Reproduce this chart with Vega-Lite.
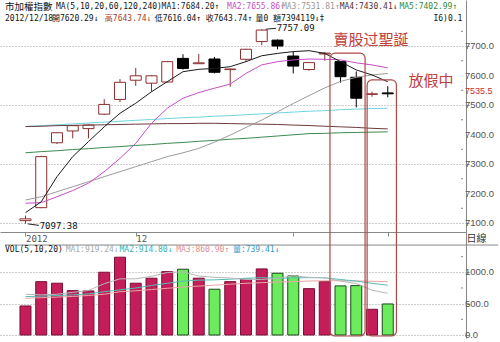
{
"$schema": "https://vega.github.io/schema/vega-lite/v6.json",
"padding": 0,
"background": "white",
"spacing": 0,
"bounds": "flush",
"resolve": {"scale": {"color": "independent"}},
"config": {
  "view": {"stroke": null},
  "axis": {"domainColor": "#888", "tickColor": "#888", "labelColor": "#555", "labelFont": "Liberation Sans", "labelFontSize": 9.5, "gridColor": "#9a9a9a", "gridDash": [1, 2], "gridOpacity": 1},
  "text": {"font": "DejaVu Sans Mono, Noto Sans CJK TC", "fontSize": 8, "baseline": "middle", "align": "left", "color": "#111"}
},
"datasets": {
  "k": [
    {"i":0,"o":7108,"h":7125,"l":7097.38,"c":7114,"v":463,"m5":7135,"m10":7167,"m20":7178,"m60":7427,"m120":7338,"m240":7427,"v5":650,"v10":612,"v20":586},
    {"i":1,"o":7152,"h":7328,"l":7150,"c":7325,"v":851,"m5":7172,"m10":7169,"m20":7189,"m60":7428,"m120":7342,"m240":7430,"v5":640,"v10":620,"v20":595},
    {"i":2,"o":7372,"h":7408,"l":7368,"c":7406,"v":826,"m5":7257,"m10":7189,"m20":7206,"m60":7430,"m120":7345,"m240":7433,"v5":650,"v10":630,"v20":605},
    {"i":3,"o":7412,"h":7432,"l":7387,"c":7430,"v":708,"m5":7325,"m10":7210,"m20":7223,"m60":7431,"m120":7349,"m240":7436,"v5":680,"v10":640,"v20":615},
    {"i":4,"o":7420,"h":7434,"l":7387,"c":7432,"v":703,"m5":7376,"m10":7235,"m20":7240,"m60":7432,"m120":7352,"m240":7439,"v5":710,"v10":655,"v20":630},
    {"i":5,"o":7469,"h":7520,"l":7466,"c":7502,"v":1001,"m5":7426,"m10":7274,"m20":7257,"m60":7433,"m120":7356,"m240":7442,"v5":818,"v10":690,"v20":650},
    {"i":6,"o":7519,"h":7588,"l":7510,"c":7577,"v":1241,"m5":7472,"m10":7319,"m20":7274,"m60":7434,"m120":7359,"m240":7445,"v5":896,"v10":720,"v20":690},
    {"i":7,"o":7584,"h":7626,"l":7565,"c":7599,"v":826,"m5":7506,"m10":7370,"m20":7291,"m60":7435,"m120":7363,"m240":7448,"v5":896,"v10":750,"v20":705},
    {"i":8,"o":7574,"h":7601,"l":7545,"c":7599,"v":906,"m5":7545,"m10":7438,"m20":7308,"m60":7436,"m120":7366,"m240":7451,"v5":935,"v10":790,"v20":725},
    {"i":9,"o":7578,"h":7649,"l":7576,"c":7647,"v":1011,"m5":7579,"m10":7489,"m20":7325,"m60":7437,"m120":7370,"m240":7454,"v5":997,"v10":825,"v20":745},
    {"i":10,"o":7658,"h":7672,"l":7620,"c":7624,"v":1049,"m5":7613,"m10":7523,"m20":7338,"m60":7437,"m120":7373,"m240":7457,"v5":1007,"v10":860,"v20":765},
    {"i":11,"o":7640,"h":7673,"l":7639,"c":7643,"v":906,"m5":7621,"m10":7542,"m20":7353,"m60":7438,"m120":7377,"m240":7459,"v5":940,"v10":875,"v20":780},
    {"i":12,"o":7656,"h":7663,"l":7607,"c":7611,"v":730,"m5":7624,"m10":7557,"m20":7374,"m60":7438,"m120":7380,"m240":7462,"v5":920,"v10":880,"v20":795},
    {"i":13,"o":7620,"h":7624,"l":7562,"c":7622,"v":851,"m5":7630,"m10":7571,"m20":7398,"m60":7437,"m120":7384,"m240":7464,"v5":909,"v10":890,"v20":810},
    {"i":14,"o":7655,"h":7690,"l":7647,"c":7689,"v":890,"m5":7647,"m10":7607,"m20":7424,"m60":7436,"m120":7387,"m240":7467,"v5":885,"v10":905,"v20":825},
    {"i":15,"o":7715,"h":7757.09,"l":7703,"c":7754,"v":1054,"m5":7667,"m10":7636,"m20":7449,"m60":7435,"m120":7391,"m240":7470,"v5":886,"v10":915,"v20":835},
    {"i":16,"o":7720,"h":7722,"l":7689,"c":7700,"v":985,"m5":7675,"m10":7647,"m20":7477,"m60":7434,"m120":7395,"m240":7473,"v5":902,"v10":905,"v20":845},
    {"i":17,"o":7666,"h":7681,"l":7607,"c":7632,"v":942,"m5":7681,"m10":7653,"m20":7505,"m60":7432,"m120":7399,"m240":7476,"v5":944,"v10":910,"v20":851},
    {"i":18,"o":7620.29,"h":7643.74,"l":7616.04,"c":7643.74,"v":739.41,"m5":7684.2,"m10":7655.86,"m20":7531.81,"m60":7430.41,"m120":7402.99,"m240":7479,"v5":919.24,"v10":914.8,"v20":860.9},
    {"i":19,"o":7673,"h":7680,"l":7650,"c":7676,"v":851,"m5":7675,"m10":7655,"m20":7558,"m60":7428,"m120":7404,"m240":7481,"v5":914,"v10":912,"v20":865},
    {"i":20,"o":7647,"h":7649,"l":7576,"c":7596,"v":783,"m5":7647,"m10":7653,"m20":7580,"m60":7426,"m120":7406,"m240":7484,"v5":860,"v10":885,"v20":866},
    {"i":21,"o":7594,"h":7614,"l":7492,"c":7523,"v":788,"m5":7619,"m10":7643,"m20":7594,"m60":7424,"m120":7407,"m240":7486,"v5":821,"v10":860,"v20":862},
    {"i":22,"o":7536,"h":7545,"l":7528,"c":7538,"v":410,"m5":7602,"m10":7636,"m20":7602,"m60":7421,"m120":7408,"m240":7488,"v5":714,"v10":825,"v20":857},
    {"i":23,"o":7541,"h":7564,"l":7526,"c":7538,"v":495,"m5":7579,"m10":7626,"m20":7607,"m60":7419,"m120":7409,"m240":7489,"v5":665,"v10":794,"v20":851}
  ],
  "ylab": [{"t": 7100}, {"t": 7200}, {"t": 7300}, {"t": 7400}, {"t": 7500}, {"t": 7600}, {"t": 7700}],
  "ymin": [{"t": 7150}, {"t": 7250}, {"t": 7350}, {"t": 7450}, {"t": 7550}, {"t": 7650}, {"t": 7750}],
  "vlab": [{"t": 0}, {"t": 500}, {"t": 1000}],
  "vmin": [{"t": 250}, {"t": 750}, {"t": 1250}]
},
"vconcat": [
  {
    "width": 466,
    "height": 232,
    "data": {"name": "k"},
    "layer": [
      {
        "mark": {"type": "rule", "strokeWidth": 1},
        "encoding": {
          "x": {"field": "i", "type": "quantitative", "title": null, "scale": {"domain": [-1.3, 27.65], "nice": false, "zero": false},
                "axis": {"title": null, "values": [0, 7, 17, 23], "labelExpr": "datum.value == 0 ? '2012' : datum.value == 7 ? '12' : ''", "grid": false, "tickSize": 4, "labelAlign": "left", "labelDx": 2, "labelPadding": -2, "labelBaseline": "top", "labelFont": "DejaVu Sans Mono", "labelFontSize": 9}},
          "y": {"field": "l", "type": "quantitative", "title": null, "scale": {"domain": [7069.5, 7856], "nice": false, "zero": false},
                "axis": {"title": null, "orient": "right", "values": [7100, 7200, 7300, 7400, 7500, 7600, 7700], "labels": false, "tickSize": 3, "grid": true}},
          "y2": {"field": "h"},
          "color": {"condition": {"test": "datum.c >= datum.o", "value": "#8B2E2E"}, "value": "#000"}
        }
      },
      {
        "mark": {"type": "bar", "size": 11, "strokeWidth": 1},
        "encoding": {
          "x": {"field": "i", "type": "quantitative", "title": null},
          "y": {"field": "o", "type": "quantitative", "title": null},
          "y2": {"field": "c"},
          "fill": {"condition": {"test": "datum.c >= datum.o", "value": "#ffffff"}, "value": "#000"},
          "stroke": {"condition": {"test": "datum.c >= datum.o", "value": "#8B2E2E"}, "value": "#000"}
        }
      },
      {
        "transform": [{"fold": ["m240", "m120", "m60", "m20", "m10", "m5"], "as": ["key", "val"]}],
        "mark": {"type": "line", "strokeWidth": 1},
        "encoding": {
          "x": {"field": "i", "type": "quantitative", "title": null},
          "y": {"field": "val", "type": "quantitative", "title": null},
          "color": {"field": "key", "type": "nominal", "legend": null,
                    "scale": {"domain": ["m5", "m10", "m20", "m60", "m120", "m240"], "range": ["#1a1a1a", "#C64FC6", "#9C9C9C", "#6E3B3B", "#3E8A52", "#6FD5DF"]}}
        }
      },
      {
        "data": {"name": "ylab"},
        "mark": {"type": "text", "font": "Liberation Sans", "fontSize": 9.5, "color": "#555"},
        "encoding": {"x": {"datum": 27.9}, "y": {"field": "t", "type": "quantitative", "title": null}, "text": {"field": "t", "type": "quantitative", "format": ".1f"}}
      },
      {
        "data": {"name": "ymin"},
        "mark": {"type": "rule", "color": "#888", "strokeWidth": 1},
        "encoding": {"x": {"datum": 27.65}, "x2": {"datum": 27.78}, "y": {"field": "t", "type": "quantitative", "title": null}}
      },
      {
        "data": {"values": [{}]},
        "mark": {"type": "rect", "filled": false, "stroke": "#B04848", "strokeWidth": 1.2, "cornerRadius": 5, "clip": true},
        "encoding": {"x": {"datum": 19.33}, "x2": {"datum": 21.56}, "y": {"datum": 7676}, "y2": {"datum": 6900}}
      },
      {
        "data": {"values": [{}]},
        "mark": {"type": "rect", "filled": false, "stroke": "#B04848", "strokeWidth": 1.2, "cornerRadius": 5, "clip": true},
        "encoding": {"x": {"datum": 21.69}, "x2": {"datum": 23.55}, "y": {"datum": 7585}, "y2": {"datum": 6900}}
      },
      {
        "data": {"values": [{}]},
        "mark": {"type": "text", "font": "Noto Sans CJK TC", "fontSize": 15, "align": "center", "color": "#C0403C"},
        "encoding": {"x": {"datum": 21.93}, "y": {"datum": 7720}, "text": {"value": "賣股过聖誕"}}
      },
      {
        "data": {"values": [{}]},
        "mark": {"type": "text", "font": "Noto Sans CJK TC", "fontSize": 15, "align": "center", "color": "#C0403C"},
        "encoding": {"x": {"datum": 25.75}, "y": {"datum": 7581}, "text": {"value": "放假中"}}
      },
      {
        "data": {"values": [{}]},
        "mark": {"type": "rule", "color": "#222", "strokeWidth": 1},
        "encoding": {"x": {"datum": 15.25}, "x2": {"datum": 15.9}, "y": {"datum": 7757}, "y2": {"datum": 7760}}
      },
      {
        "data": {"values": [{}]},
        "mark": {"type": "text", "font": "DejaVu Sans Mono", "fontSize": 9},
        "encoding": {"x": {"datum": 15.95}, "y": {"datum": 7761}, "text": {"value": "7757.09"}}
      },
      {
        "data": {"values": [{}]},
        "mark": {"type": "rule", "color": "#222", "strokeWidth": 1},
        "encoding": {"x": {"datum": 0.15}, "x2": {"datum": 0.85}, "y": {"datum": 7097}, "y2": {"datum": 7092}}
      },
      {
        "data": {"values": [{}]},
        "mark": {"type": "text", "font": "DejaVu Sans Mono", "fontSize": 9},
        "encoding": {"x": {"datum": 0.9}, "y": {"datum": 7090.5}, "text": {"value": "7097.38"}}
      },
      {
        "data": {"values": [{}]},
        "mark": {"type": "text", "font": "Liberation Sans", "fontSize": 9, "color": "#CC2A2A"},
        "encoding": {"x": {"datum": 27.9}, "y": {"datum": 7546}, "text": {"value": "7535.5"}}
      },
      {
        "data": {"values": [{}]},
        "mark": {"type": "text", "font": "Noto Sans CJK TC", "fontSize": 9.5},
        "encoding": {"x": {"datum": -1.3}, "y": {"datum": 7832}, "text": {"value": "市加權指數"}}
      },
      {
        "data": {"values": [{}]},
        "mark": {"type": "text"},
        "encoding": {"x": {"datum": 1.93}, "y": {"datum": 7832}, "text": {"value": "MA(5,10,20,60,120,240)"}}
      },
      {
        "data": {"values": [{}]},
        "mark": {"type": "text", "color": "#222"},
        "encoding": {"x": {"datum": 8.64}, "y": {"datum": 7832}, "text": {"value": "MA1:7684.20↑"}}
      },
      {
        "data": {"values": [{}]},
        "mark": {"type": "text", "color": "#C64FC6"},
        "encoding": {"x": {"datum": 12.8}, "y": {"datum": 7832}, "text": {"value": "MA2:7655.86↑"}}
      },
      {
        "data": {"values": [{}]},
        "mark": {"type": "text", "color": "#999999"},
        "encoding": {"x": {"datum": 16.28}, "y": {"datum": 7832}, "text": {"value": "MA3:7531.81↑"}}
      },
      {
        "data": {"values": [{}]},
        "mark": {"type": "text", "color": "#5A2E2E"},
        "encoding": {"x": {"datum": 19.95}, "y": {"datum": 7832}, "text": {"value": "MA4:7430.41↓"}}
      },
      {
        "data": {"values": [{}]},
        "mark": {"type": "text", "color": "#2E8B3E"},
        "encoding": {"x": {"datum": 23.74}, "y": {"datum": 7832}, "text": {"value": "MA5:7402.99↑"}}
      },
      {
        "data": {"values": [{}]},
        "mark": {"type": "text"},
        "encoding": {"x": {"datum": -1.3}, "y": {"datum": 7791.5}, "text": {"value": "2012/12/18"}}
      },
      {
        "data": {"values": [{}]},
        "mark": {"type": "text"},
        "encoding": {"x": {"datum": 1.68}, "y": {"datum": 7791.5}, "text": {"value": "開7620.29↓"}}
      },
      {
        "data": {"values": [{}]},
        "mark": {"type": "text", "color": "#A8402E"},
        "encoding": {"x": {"datum": 5.04}, "y": {"datum": 7791.5}, "text": {"value": "高7643.74↓"}}
      },
      {
        "data": {"values": [{}]},
        "mark": {"type": "text"},
        "encoding": {"x": {"datum": 8.2}, "y": {"datum": 7791.5}, "text": {"value": "低7616.04↑"}}
      },
      {
        "data": {"values": [{}]},
        "mark": {"type": "text"},
        "encoding": {"x": {"datum": 11.44}, "y": {"datum": 7791.5}, "text": {"value": "收7643.74↑"}}
      },
      {
        "data": {"values": [{}]},
        "mark": {"type": "text"},
        "encoding": {"x": {"datum": 14.6}, "y": {"datum": 7791.5}, "text": {"value": "量0 額7394119↓‡"}}
      },
      {
        "data": {"values": [{}]},
        "mark": {"type": "text"},
        "encoding": {"x": {"datum": 25.9}, "y": {"datum": 7791.5}, "text": {"value": "I6)0.1"}}
      }
    ]
  },
  {
    "width": 466,
    "height": 106,
    "data": {"name": "k"},
    "layer": [
      {
        "mark": {"type": "bar", "size": 11, "strokeWidth": 1},
        "encoding": {
          "x": {"field": "i", "type": "quantitative", "title": null, "scale": {"domain": [-1.3, 27.65], "nice": false, "zero": false}, "axis": null},
          "y": {"field": "v", "type": "quantitative", "title": null, "scale": {"domain": [-48, 1643], "nice": false, "zero": false},
                "axis": {"title": null, "orient": "right", "values": [0, 500, 1000], "labels": false, "tickSize": 3, "grid": true}},
          "y2": {"datum": 0},
          "fill": {"condition": {"test": "datum.c >= datum.o", "value": "#C41E5A"}, "value": "#6CEB5C"},
          "stroke": {"condition": {"test": "datum.c >= datum.o", "value": "#7A1038"}, "value": "#1A4A1A"}
        }
      },
      {
        "transform": [{"fold": ["v20", "v10", "v5"], "as": ["key", "val"]}],
        "mark": {"type": "line", "strokeWidth": 1},
        "encoding": {
          "x": {"field": "i", "type": "quantitative", "title": null},
          "y": {"field": "val", "type": "quantitative", "title": null},
          "color": {"field": "key", "type": "nominal", "legend": null,
                    "scale": {"domain": ["v5", "v10", "v20"], "range": ["#B8B8B8", "#55BDB5", "#EBA5A5"]}}
        }
      },
      {
        "data": {"name": "vlab"},
        "mark": {"type": "text", "font": "Liberation Sans", "fontSize": 9.5, "color": "#555"},
        "encoding": {"x": {"datum": 27.9}, "y": {"field": "t", "type": "quantitative", "title": null}, "text": {"field": "t", "type": "quantitative", "format": ".1f"}}
      },
      {
        "data": {"name": "vmin"},
        "mark": {"type": "rule", "color": "#888", "strokeWidth": 1},
        "encoding": {"x": {"datum": 27.65}, "x2": {"datum": 27.78}, "y": {"field": "t", "type": "quantitative", "title": null}}
      },
      {
        "data": {"values": [{}]},
        "mark": {"type": "rule", "color": "#888", "strokeWidth": 1},
        "encoding": {"x": {"datum": -1.3}, "x2": {"datum": 30}, "y": {"datum": 1435}}
      },
      {
        "data": {"values": [{}]},
        "mark": {"type": "rect", "filled": false, "stroke": "#B04848", "strokeWidth": 1.2, "cornerRadius": 5, "clip": true},
        "encoding": {"x": {"datum": 19.33}, "x2": {"datum": 21.56}, "y": {"datum": 2500}, "y2": {"datum": -16}}
      },
      {
        "data": {"values": [{}]},
        "mark": {"type": "rect", "filled": false, "stroke": "#B04848", "strokeWidth": 1.2, "cornerRadius": 5, "clip": true},
        "encoding": {"x": {"datum": 21.69}, "x2": {"datum": 23.55}, "y": {"datum": 2500}, "y2": {"datum": -16}}
      },
      {
        "data": {"values": [{}]},
        "mark": {"type": "text", "font": "Noto Sans CJK TC", "fontSize": 10, "color": "#333"},
        "encoding": {"x": {"datum": 28.0}, "y": {"datum": 1531}, "text": {"value": "日線"}}
      },
      {
        "data": {"values": [{}]},
        "mark": {"type": "text"},
        "encoding": {"x": {"datum": -1.3}, "y": {"datum": 1350}, "text": {"value": "VOL(5,10,20)"}}
      },
      {
        "data": {"values": [{}]},
        "mark": {"type": "text", "color": "#A8A8A8"},
        "encoding": {"x": {"datum": 2.55}, "y": {"datum": 1350}, "text": {"value": "MA1:919.24↓"}}
      },
      {
        "data": {"values": [{}]},
        "mark": {"type": "text", "color": "#3AAFA9"},
        "encoding": {"x": {"datum": 5.97}, "y": {"datum": 1350}, "text": {"value": "MA2:914.80↓"}}
      },
      {
        "data": {"values": [{}]},
        "mark": {"type": "text", "color": "#E09090"},
        "encoding": {"x": {"datum": 9.57}, "y": {"datum": 1350}, "text": {"value": "MA3:860.90↑"}}
      },
      {
        "data": {"values": [{}]},
        "mark": {"type": "text", "color": "#3399CC"},
        "encoding": {"x": {"datum": 13.17}, "y": {"datum": 1350}, "text": {"value": "量:739.41↓"}}
      }
    ]
  }
]
}
